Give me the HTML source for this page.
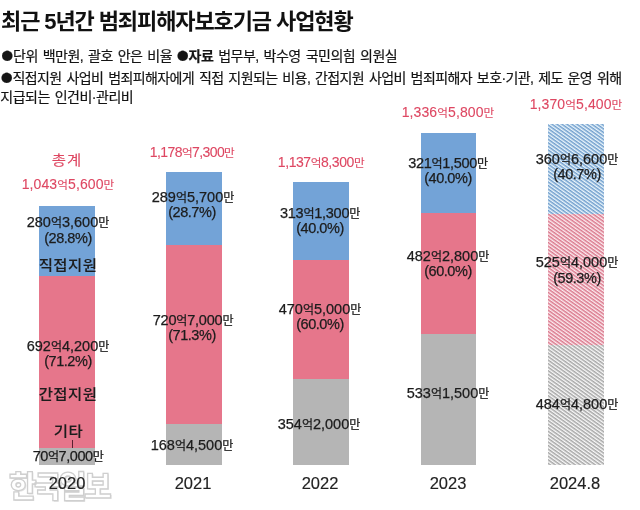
<!DOCTYPE html>
<html lang="ko">
<head>
<meta charset="utf-8">
<title>최근 5년간 범죄피해자보호기금 사업현황</title>
<style>
html,body{margin:0;padding:0;}
body{width:640px;height:510px;position:relative;overflow:hidden;background:#fff;font-family:"Liberation Sans","Noto Sans CJK KR",sans-serif;color:#1a1a1a;}
.h{position:absolute;left:0;white-space:nowrap;line-height:1;}
#title{top:10.5px;left:1px;font-size:22px;font-weight:bold;letter-spacing:-1.1px;color:#111;}
.note{font-size:14px;letter-spacing:-0.5px;word-spacing:1.5px;color:#151515;-webkit-text-stroke:0.2px currentColor;}
.bl{font-family:"Noto Sans CJK KR",sans-serif;font-size:11.5px;letter-spacing:0;vertical-align:1px;line-height:0;}
.seg{position:absolute;left:0;width:100%;}
.blue{background:#73a3d7;}
.pink{background:#e6768b;}
.gray{background:#b5b5b5;}
.t{position:absolute;white-space:nowrap;line-height:1;transform:translate(-50%,-50%);font-size:14.5px;letter-spacing:0px;color:#1c1c1c;-webkit-text-stroke:0.25px currentColor;}
.k{font-size:0.83em;}
.p{letter-spacing:-0.45px;}
.wm{position:absolute;left:9px;top:466px;font-size:30px;line-height:36px;font-weight:900;letter-spacing:-2.6px;color:#fff;-webkit-text-stroke:1.3px #cfcfcf;text-shadow:1px 1px 0 #e2e2e2;white-space:nowrap;font-family:"Noto Sans CJK KR",sans-serif;}
.r{color:#de4762;font-size:14px;letter-spacing:0.1px;-webkit-text-stroke:0.1px currentColor;}
.y{font-size:16.5px;letter-spacing:0;color:#222;-webkit-text-stroke:0.15px currentColor;}
.c{font-size:15.5px;font-weight:500;letter-spacing:0.4px;-webkit-text-stroke:0.12px currentColor;transform:translate(-50%,-50%) scaleY(0.88);}
</style>
</head>
<body>
<div id="title" class="h">최근 5년간 범죄피해자보호기금 사업현황</div>
<div class="h note" style="top:49px;left:1.5px"><span class="bl">●</span>단위 백만원, 괄호 안은 비율 <span class="bl">●</span><b>자료</b> 법무부, 박수영 국민의힘 의원실</div>
<div class="h note" style="top:70.7px;left:1px;letter-spacing:-0.59px"><span class="bl">●</span>직접지원 사업비 범죄피해자에게 직접 지원되는 비용, 간접지원 사업비 범죄피해자 보호·기관, 제도 운영 위해</div>
<div class="h note" style="top:90.4px;left:0.3px">지급되는 인건비·관리비</div>

<!-- bars -->
<div class="seg blue" style="left:39px;width:55.5px;top:206px;height:70px"></div>
<div class="seg pink" style="left:39px;width:55.5px;top:276px;height:172px"></div>
<div class="seg gray" style="left:39px;width:55.5px;top:448px;height:17px"></div>

<div class="seg blue" style="left:166.3px;width:55.4px;top:172px;height:73px"></div>
<div class="seg pink" style="left:166.3px;width:55.4px;top:245px;height:179px"></div>
<div class="seg gray" style="left:166.3px;width:55.4px;top:424px;height:41px"></div>

<div class="seg blue" style="left:293.4px;width:55.4px;top:182px;height:78px"></div>
<div class="seg pink" style="left:293.4px;width:55.4px;top:260px;height:119px"></div>
<div class="seg gray" style="left:293.4px;width:55.4px;top:379px;height:86px"></div>

<div class="seg blue" style="left:421px;width:55.3px;top:133px;height:80px"></div>
<div class="seg pink" style="left:421px;width:55.3px;top:213px;height:121px"></div>
<div class="seg gray" style="left:421px;width:55.3px;top:334px;height:131px"></div>

<svg width="55.4" height="341" viewBox="0 0 55.4 341" style="position:absolute;left:548.2px;top:124px;display:block">
<defs>
<pattern id="pb" width="12" height="2.9" patternUnits="userSpaceOnUse" patternTransform="rotate(35.5)"><rect width="12" height="1.5" fill="#709ecd"/></pattern>
<pattern id="pp" width="12" height="2.9" patternUnits="userSpaceOnUse" patternTransform="rotate(35.5)"><rect width="12" height="1.5" fill="#da788c"/></pattern>
<pattern id="pg" width="12" height="2.9" patternUnits="userSpaceOnUse" patternTransform="rotate(35.5)"><rect width="12" height="1.5" fill="#a6a6a6"/></pattern>
</defs>
<rect x="0" y="0" width="56" height="90" fill="#ecf6fc"/><rect x="0" y="0" width="56" height="90" fill="url(#pb)"/>
<rect x="0" y="90" width="56" height="131" fill="#fcecf0"/><rect x="0" y="90" width="56" height="131" fill="url(#pp)"/>
<rect x="0" y="221" width="56" height="120" fill="#fafafa"/><rect x="0" y="221" width="56" height="120" fill="url(#pg)"/>
</svg>

<div class="wm">한국일보</div>

<!-- 2020 -->
<span class="t r c" style="left:67px;top:160px;font-weight:400;letter-spacing:1px">총계</span>
<span class="t r" style="left:68px;top:184px">1,043<span class="k">억</span>5,600<span class="k">만</span></span>
<span class="t" style="left:68px;top:222px">280<span class="k">억</span>3,600<span class="k">만</span></span>
<span class="t p" style="left:68px;top:238px">(28.8%)</span>
<span class="t c" style="left:68px;top:265px">직접지원</span>
<span class="t" style="left:68px;top:346px">692<span class="k">억</span>4,200<span class="k">만</span></span>
<span class="t p" style="left:68px;top:361px">(71.2%)</span>
<span class="t c" style="left:68px;top:394.3px">간접지원</span>
<span class="t c" style="left:68.5px;top:431px">기타</span>
<div style="position:absolute;left:72px;top:440px;width:1px;height:8px;background:#5a2030"></div>
<span class="t" style="left:68px;top:456px;letter-spacing:-0.44px">70<span class="k">억</span>7,000<span class="k">만</span></span>
<span class="t y" style="left:67px;top:483px">2020</span>

<!-- 2021 -->
<span class="t r" style="left:192px;top:152px;letter-spacing:-0.59px">1,178<span class="k">억</span>7,300<span class="k">만</span></span>
<span class="t" style="left:193px;top:197px">289<span class="k">억</span>5,700<span class="k">만</span></span>
<span class="t p" style="left:192px;top:212px">(28.7%)</span>
<span class="t" style="left:193px;top:320px;letter-spacing:-0.2px">720<span class="k">억</span>7,000<span class="k">만</span></span>
<span class="t p" style="left:192px;top:335px">(71.3%)</span>
<span class="t" style="left:192px;top:445px">168<span class="k">억</span>4,500<span class="k">만</span></span>
<span class="t y" style="left:193px;top:483px">2021</span>

<!-- 2022 -->
<span class="t r" style="left:321px;top:162px;letter-spacing:-0.43px">1,137<span class="k">억</span>8,300<span class="k">만</span></span>
<span class="t" style="left:320px;top:213px;letter-spacing:-0.25px">313<span class="k">억</span>1,300<span class="k">만</span></span>
<span class="t p" style="left:320px;top:228px">(40.0%)</span>
<span class="t" style="left:320px;top:309px">470<span class="k">억</span>5,000<span class="k">만</span></span>
<span class="t p" style="left:320px;top:324px">(60.0%)</span>
<span class="t" style="left:319px;top:424px">354<span class="k">억</span>2,000<span class="k">만</span></span>
<span class="t y" style="left:320px;top:483px">2022</span>

<!-- 2023 -->
<span class="t r" style="left:448px;top:112px">1,336<span class="k">억</span>5,800<span class="k">만</span></span>
<span class="t" style="left:448px;top:163px;letter-spacing:-0.3px">321<span class="k">억</span>1,500<span class="k">만</span></span>
<span class="t p" style="left:448px;top:177.5px">(40.0%)</span>
<span class="t" style="left:448px;top:256px">482<span class="k">억</span>2,800<span class="k">만</span></span>
<span class="t p" style="left:448px;top:271px">(60.0%)</span>
<span class="t" style="left:448px;top:393px">533<span class="k">억</span>1,500<span class="k">만</span></span>
<span class="t y" style="left:448px;top:483px">2023</span>

<!-- 2024.8 -->
<span class="t r" style="left:576px;top:104px">1,370<span class="k">억</span>5,400<span class="k">만</span></span>
<span class="t" style="left:577px;top:159px">360<span class="k">억</span>6,600<span class="k">만</span></span>
<span class="t p" style="left:577px;top:174px">(40.7%)</span>
<span class="t" style="left:577px;top:262px">525<span class="k">억</span>4,000<span class="k">만</span></span>
<span class="t p" style="left:577px;top:278px">(59.3%)</span>
<span class="t" style="left:577px;top:404px">484<span class="k">억</span>4,800<span class="k">만</span></span>
<span class="t y" style="left:575px;top:483px">2024.8</span>
</body>
</html>
